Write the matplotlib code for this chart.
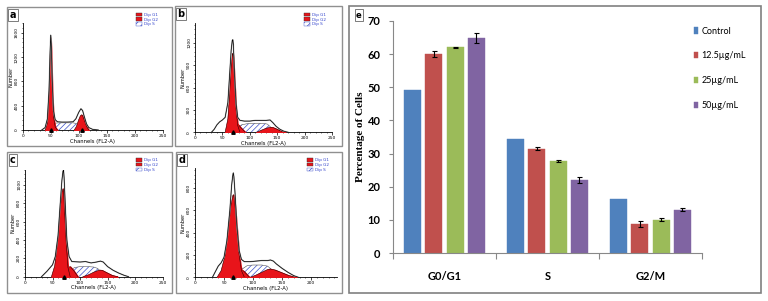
import matplotlib.pyplot as plt
from matplotlib.patches import Rectangle, Patch
from matplotlib.ticker import AutoMinorLocator

# ---- bar chart (panel e) ----
phases = ["G0/G1", "S", "G2/M"]
groups = ["Control", "12.5µg/mL", "25µg/mL", "50µg/mL"]
control = [49.2, 34.4, 16.4]
conc_12_5 = [60.0, 31.5, 8.8]
conc_25 = [62.1, 27.9, 10.1]
conc_50 = [64.9, 22.0, 13.1]
err_control = [0, 0, 0]
err_12_5 = [0.9, 0.5, 1.0]
err_25 = [0.2, 0.3, 0.4]
err_50 = [1.5, 1.0, 0.5]

# ---- flow cytometry histograms (panels a-d) ----
a_env_ch = [34, 40, 44, 47, 49, 50, 51, 53, 55, 58, 62, 70, 80, 90, 95, 100, 104, 107, 110, 114, 118, 125, 135]
a_env_n = [0, 40, 180, 650, 1300, 1560, 1420, 750, 320, 170, 135, 130, 130, 135, 185, 290, 350, 320, 220, 100, 40, 10, 0]
a_g1_ch = [40, 44, 47, 49, 50, 51, 53, 55, 58, 62]
a_g1_n = [0, 110, 560, 1250, 1520, 1300, 600, 220, 50, 0]
a_s_ch = [50, 55, 60, 70, 80, 90, 96, 100, 104, 108]
a_s_n = [0, 70, 115, 118, 118, 118, 105, 70, 25, 0]
a_g2_ch = [92, 96, 100, 103, 105, 107, 110, 114, 118]
a_g2_n = [0, 60, 170, 235, 250, 235, 160, 60, 0]

b_env_ch = [30, 35, 40, 45, 50, 55, 60, 63, 66, 68, 69, 70, 72, 75, 78, 82, 90, 100, 110, 120, 130, 137, 142, 148, 155, 162, 170]
b_env_n = [0, 40, 100, 140, 165, 200, 400, 750, 1100, 1230, 1240, 1180, 800, 380, 200, 160, 150, 150, 160, 160, 160, 165, 130, 80, 40, 15, 0]
b_g1_ch = [55, 60, 63, 66, 68, 69, 70, 72, 75, 78, 82]
b_g1_n = [0, 180, 500, 880, 1040, 1060, 1000, 700, 300, 90, 0]
b_s_ch = [72, 78, 85, 95, 110, 125, 132, 138, 145]
b_s_n = [0, 60, 100, 115, 120, 120, 110, 70, 0]
b_g2a_ch = [62, 68, 74, 78, 84, 92]
b_g2a_n = [0, 50, 95, 110, 60, 0]
b_g2_ch = [112, 120, 130, 138, 142, 150, 158, 165]
b_g2_n = [0, 25, 55, 67, 65, 40, 12, 0]

c_env_ch = [30, 35, 40, 45, 50, 55, 60, 64, 67, 69, 70, 71, 73, 76, 80, 85, 100, 110, 120, 130, 137, 142, 150, 160, 170, 180, 188]
c_env_n = [0, 30, 60, 95, 130, 220, 450, 800, 1050, 1150, 1160, 1080, 800, 400, 220, 165, 160, 165, 150, 160, 170, 160, 110, 70, 40, 15, 0]
c_g1_ch = [48, 54, 60, 64, 67, 69, 70, 72, 75, 78, 82]
c_g1_n = [0, 120, 420, 750, 920, 960, 940, 700, 350, 100, 0]
c_s_ch = [75, 82, 90, 100, 115, 125, 132, 138, 145]
c_s_n = [0, 70, 100, 110, 110, 105, 90, 50, 0]
c_g2a_ch = [62, 70, 78, 82, 88, 96]
c_g2a_n = [0, 50, 100, 110, 70, 0]
c_g2_ch = [105, 115, 125, 135, 140, 148, 158, 168]
c_g2_n = [0, 20, 50, 72, 70, 45, 15, 0]

d_env_ch = [30, 35, 40, 45, 50, 55, 60, 63, 65, 66, 67, 69, 72, 76, 80, 85, 95, 105, 115, 125, 130, 135, 140, 150, 160, 170, 178]
d_env_n = [0, 50, 100, 130, 180, 330, 600, 820, 910, 935, 900, 750, 470, 240, 160, 140, 140, 145, 150, 150, 155, 145, 120, 80, 45, 15, 0]
d_g1_ch = [38, 45, 52, 58, 62, 65, 66, 68, 72, 76, 80, 85]
d_g1_n = [0, 60, 200, 460, 650, 730, 740, 700, 450, 200, 60, 0]
d_s_ch = [72, 80, 90, 100, 115, 125, 132, 140]
d_s_n = [0, 70, 105, 110, 110, 100, 70, 0]
d_g2a_ch = [48, 58, 68, 76, 84, 94]
d_g2a_n = [0, 30, 65, 80, 55, 0]
d_g2_ch = [95, 105, 115, 125, 130, 138, 150, 162, 175]
d_g2_n = [0, 20, 45, 70, 74, 65, 40, 15, 0]

peaks_a = [50, 105]
peaks_b = [69]
peaks_c = [70]
peaks_d = [66]

W, H = 768, 301
plt.rcParams['hatch.linewidth'] = 0.5
fig = plt.figure(figsize=(W / 100, H / 100), dpi=100)


def box(x0, y0, x1, y1):
    # pixel box (top-left origin) -> figure fraction rect
    return [x0 / W, 1 - y1 / H, (x1 - x0) / W, (y1 - y0) / H]


def frame(x0, y0, x1, y1, color='#909090', lw=1.0):
    fig.add_artist(Rectangle((x0 / W, 1 - y1 / H), (x1 - x0) / W, (y1 - y0) / H,
                             transform=fig.transFigure, fill=False, ec=color, lw=lw))


def letter(x, y, s, size=7):
    fig.text(x / W, 1 - y / H, s, fontsize=size, fontweight='bold', ha='center', va='center',
             bbox=dict(boxstyle='square,pad=0.15', fc='white', ec='#666666', lw=0.6))


RED = '#e8141a'
HATCH_BLUE = '#3b4fc8'


def hist_panel(pframe, axpx, xmax, ymax, ymaj, xticks, env, g1, s_ph, g2_list, peaks, lab, legpx):
    frame(*pframe)
    ax = fig.add_axes(box(*axpx))
    ax.fill_between(env[0], env[1], color='white', zorder=1)
    ax.fill_between(s_ph[0], s_ph[1], facecolor='white', edgecolor=HATCH_BLUE, hatch='//////', lw=0, zorder=2)
    ax.plot(s_ph[0], s_ph[1], color='#555555', lw=0.4, zorder=2)
    for g in g2_list:
        ax.fill_between(g[0], g[1], color=RED, zorder=3)
        ax.plot(g[0], g[1], color='#300000', lw=0.4, zorder=3)
    ax.fill_between(g1[0], g1[1], color=RED, zorder=4)
    ax.plot(g1[0], g1[1], color='#300000', lw=0.4, zorder=4)
    ax.plot(env[0], env[1], color='#b0b0b0', lw=1.0, zorder=5)
    ax.plot(env[0], env[1], color='black', lw=0.5, zorder=6)
    ax.plot(peaks, [0] * len(peaks), ls='none', marker='^', ms=2.5, color='black', zorder=7, clip_on=False)
    ax.set_xlim(0, xmax)
    ax.set_ylim(0, ymax)
    ax.set_xticks(xticks)
    ax.set_yticks(range(0, int(ymax) + 1, ymaj))
    ax.xaxis.set_minor_locator(AutoMinorLocator(5))
    ax.yaxis.set_minor_locator(AutoMinorLocator(5))
    for sp in ['top', 'right']:
        ax.spines[sp].set_visible(False)
    for sp in ['left', 'bottom']:
        ax.spines[sp].set_linewidth(0.6)
    ax.tick_params(which='major', length=1.8, width=0.5, labelsize=3.2, pad=1)
    ax.tick_params(which='minor', length=1.0, width=0.4)
    for t in ax.get_yticklabels():
        t.set_rotation(90)
        t.set_va('center')
    ax.set_xlabel("Channels (FL2-A)", fontsize=3.8, labelpad=0.5)
    ax.set_ylabel("Number", fontsize=3.6, labelpad=1)
    letter(pframe[0] + 6, pframe[1] + 8, lab)
    handles = [Patch(fc=RED, ec='#333333', lw=0.3), Patch(fc=RED, ec='#333333', lw=0.3),
               Patch(fc='white', ec=HATCH_BLUE, hatch='/////', lw=0.3)]
    leg = ax.legend(handles, ["Dip G1", "Dip G2", "Dip S"], loc='upper left',
                    bbox_to_anchor=(legpx[0] / W, 1 - legpx[1] / H), bbox_transform=fig.transFigure,
                    fontsize=3, frameon=False, handlelength=1.5, handleheight=0.9,
                    labelspacing=0.15, handletextpad=0.4, borderpad=0)
    for t in leg.get_texts():
        t.set_color('#3344cc')
    return ax


hist_panel((7, 7, 172, 146), (22.7, 23, 162.7, 130), 250, 1760, 400, [0, 50, 100, 150, 200, 250],
           (a_env_ch, a_env_n), (a_g1_ch, a_g1_n), (a_s_ch, a_s_n), [(a_g2_ch, a_g2_n)], peaks_a, 'a', (134, 10.5))
hist_panel((175, 6, 342, 146), (195, 23.3, 332, 132.3), 250, 1460, 300, [0, 50, 100, 150, 200, 250],
           (b_env_ch, b_env_n), (b_g1_ch, b_g1_n), (b_s_ch, b_s_n), [(b_g2a_ch, b_g2a_n), (b_g2_ch, b_g2_n)],
           peaks_b, 'b', (302, 10.5))
hist_panel((7, 152, 172, 293), (25, 170, 162.7, 276.7), 250, 1163, 200, [0, 50, 100, 150, 200, 250],
           (c_env_ch, c_env_n), (c_g1_ch, c_g1_n), (c_s_ch, c_s_n), [(c_g2a_ch, c_g2a_n), (c_g2_ch, c_g2_n)],
           peaks_c, 'c', (134, 156))
hist_panel((176, 152, 342, 293), (195, 168.3, 336.7, 277.3), 244, 976, 200, [0, 50, 100, 150, 200],
           (d_env_ch, d_env_n), (d_g1_ch, d_g1_n), (d_s_ch, d_s_n), [(d_g2a_ch, d_g2a_n), (d_g2_ch, d_g2_n)],
           peaks_d, 'd', (305, 156))

# ---- panel e ----
frame(349, 6, 761, 293, color='#808080', lw=1.2)
letter(359, 15, 'e', size=6)
ax = fig.add_axes(box(393, 21, 702, 253))
colors = ['#4f81bd', '#c0504d', '#9bbb59', '#8064a2']
series = [control, conc_12_5, conc_25, conc_50]
errs = [err_control, err_12_5, err_25, err_50]
slot, width = 0.205, 0.165
for i, (vals, e, c, name) in enumerate(zip(series, errs, colors, groups)):
    xs = [k + (i - 1.5) * slot for k in range(len(phases))]
    ax.bar(xs, vals, width=width, color=c, edgecolor=c, lw=0.3, label=name, zorder=2)
    if any(e):
        ax.errorbar(xs, vals, yerr=e, fmt='none', ecolor='black', elinewidth=0.8, capsize=1.8,
                    capthick=0.8, zorder=3)
ax.set_xlim(-0.5, 2.5)
ax.set_ylim(0, 70)
ax.set_yticks(range(0, 71, 10))
ax.set_xticks([-0.5, 0.5, 1.5, 2.5])
ax.set_xticklabels([])
ax.set_xticks(range(len(phases)), minor=True)
ax.set_xticklabels(phases, minor=True, fontsize=8, fontweight='bold', family='Lato')
ax.tick_params(axis='x', which='minor', length=0, pad=13)
ax.tick_params(axis='x', which='major', length=4, color='#888888', direction='out')
ax.tick_params(axis='y', length=3, color='#888888', labelsize=8, pad=6)
for t in ax.get_yticklabels():
    t.set_fontweight('bold')
    t.set_family('Lato')
for sp in ['top', 'right']:
    ax.spines[sp].set_visible(False)
for sp in ['left', 'bottom']:
    ax.spines[sp].set_color('#888888')
    ax.spines[sp].set_linewidth(0.8)
ax.set_ylabel("Percentage of Cells", fontsize=8, fontweight='bold', family='Liberation Serif')
ax.yaxis.set_label_coords((365 - 393) / (702 - 393), 0.5)
leg = ax.legend(loc='upper left', bbox_to_anchor=(689 / W, 1 - 22 / H), bbox_transform=fig.transFigure,
                frameon=False, fontsize=6.5, handlelength=0.55, handleheight=0.7, labelspacing=1.75,
                handletextpad=0.35, borderpad=0, prop={'family': 'Lato', 'size': 6.5})

fig.savefig("out.png", dpi=100)
